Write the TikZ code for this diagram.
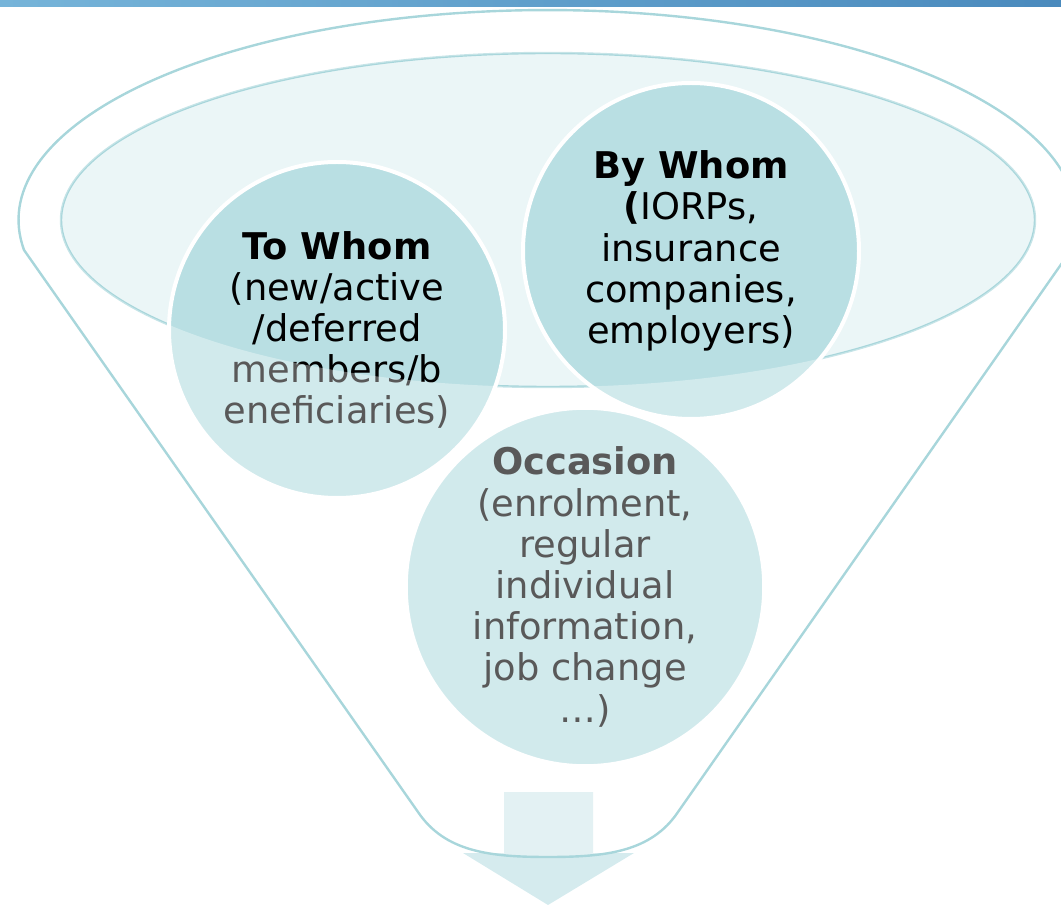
\documentclass[tikz,border=0pt]{standalone}
\usepackage{fontspec}
\setmainfont{DejaVu Sans}
\usepackage{tikz}

\definecolor{rimline}{HTML}{A8D6DB}
\definecolor{rimfill}{HTML}{EBF6F7}
\definecolor{bubblefill}{HTML}{B9DFE3}
\definecolor{spoutfill}{HTML}{D5EBEE}
\definecolor{barleft}{HTML}{76B4D9}
\definecolor{barright}{HTML}{4A8ABD}

\newcommand{\bubbletext}[2]{%
  \textbf{#1}\\#2%
}
\newcommand{\funnelpath}{%
  (24,250) arc[start angle=171.8, end angle=368.2, x radius=529, y radius=210]
  -- (678,812) .. controls (651,852) and (606,857) .. (548,857)
  .. controls (490,857) and (445,852) .. (418,812) -- cycle%
}

\begin{document}
\begin{tikzpicture}[
      x=0.75pt, y=-0.75pt,
      every node/.style={inner sep=0pt,font=\fontsize{27.6pt}{30.9pt}\selectfont},
      rim/.style={draw=rimline,line width=1.8pt},
      bubble/.style={circle,fill=bubblefill,draw=white,line width=3pt,
        minimum size=252pt,align=center},
      glass/.style={fill=white,opacity=.35,even odd rule}
    ]
      \clip (0,0) rectangle (1061,905);
      \shade[left color=barleft,right color=barright] (0,0) rectangle (1061,7);
      % mouth of the funnel
      \path[rim,fill=rimfill] (548,220) ellipse[x radius=487,y radius=167];
      \node[bubble] (towhom) at (337,330)
        {\bubbletext{To Whom}{(new/active\\/deferred\\members/b\\eneficiaries)}};
      \node[bubble] (bywhom) at (691,251)
        {\bubbletext{By Whom}{\textbf{(}IORPs,\\insurance\\companies,\\employers)}};
      \node[bubble] (occasion) at (585,587)
        {\bubbletext{Occasion}{(enrolment,\\regular\\individual\\information,\\job change\\…)}};
      % arrow out of the spout
      \fill[spoutfill] (504,792) -- (593,792) -- (593,853) -- (634,853)
        -- (548,905) -- (463,853) -- (504,853) -- cycle;
      % body of the funnel over the bubbles
      \path[glass] \funnelpath (548,220) ellipse[x radius=487,y radius=167];
      \draw[rim] \funnelpath;
    \end{tikzpicture}
\end{document}
